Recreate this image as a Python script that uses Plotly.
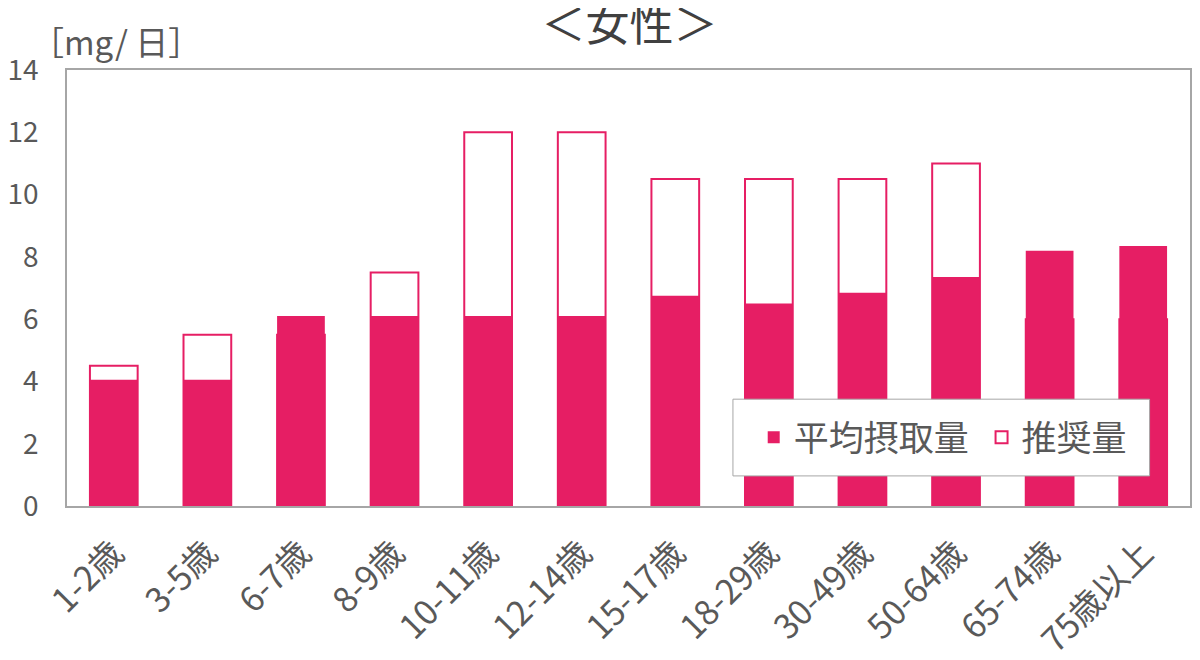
import plotly.graph_objects as go

# 鉄の摂取量（女性）
age_groups = ['1-2歳', '3-5歳', '6-7歳', '8-9歳', '10-11歳', '12-14歳',
              '15-17歳', '18-29歳', '30-49歳', '50-64歳', '65-74歳', '75歳以上']
avg_intake = [4.05, 4.05, 6.1, 6.1, 6.1, 6.1, 6.75, 6.5, 6.85, 7.35, 8.2, 8.35]
recommended = [4.5, 5.5, 5.5, 7.5, 12.0, 12.0, 10.5, 10.5, 10.5, 11.0, 6.0, 6.0]
y_ticks = [0, 2, 4, 6, 8, 10, 12, 14]

pink = '#e61e64'
gray_text = '#595959'
font_family = 'Noto Sans CJK JP, Noto Sans, sans-serif'

fig = go.Figure()

fig.add_trace(go.Bar(
    x=age_groups, y=recommended, name='推奨量',
    marker=dict(color='white', line=dict(color=pink, width=2)),
    width=0.51, legendrank=2
))
fig.add_trace(go.Bar(
    x=age_groups, y=avg_intake, name='平均摂取量 ',
    marker=dict(color=pink, line=dict(color=pink, width=0)),
    width=0.51, legendrank=1
))

# page body has an 8px margin, so margins are set 8px smaller on the left/top
fig.update_layout(
    width=1200, height=660,
    barmode='overlay',
    paper_bgcolor='white', plot_bgcolor='white',
    margin=dict(l=59, r=18, t=62, b=162, autoexpand=False),
    font=dict(family=font_family, color=gray_text, size=26),
    title=dict(text='＜女性＞', x=0.518, xanchor='center', y=0.974, yanchor='middle',
               font=dict(size=44, color='#404040')),
    legend=dict(
        orientation='h', x=0.6115, y=0.157, xanchor='left', yanchor='middle',
        bgcolor='rgba(0,0,0,0)', borderwidth=0,
        font=dict(size=35, color=gray_text),
        itemwidth=30, traceorder='normal'
    ),
    shapes=[dict(
        type='rect', xref='paper', yref='paper',
        x0=0.593, x1=0.964, y0=0.069, y1=0.245,
        fillcolor='white', line=dict(color='#a6a6a6', width=1), layer='above'
    )],
    annotations=[dict(
        text='［mg/ 日］', x=0.0, y=1.0, xref='paper', yref='paper',
        xanchor='left', yanchor='bottom', xshift=-38, yshift=3,
        showarrow=False, font=dict(size=33, color=gray_text)
    )]
)

fig.update_xaxes(
    tickangle=-45, showline=True, linecolor='#a6a6a6', linewidth=1.5,
    mirror=True, ticks='', automargin=False, ticklabelstandoff=12,
    tickfont=dict(size=34, color=gray_text)
)
fig.update_yaxes(
    range=[0, 14], tickvals=y_ticks, showgrid=False, zeroline=False,
    showline=True, linecolor='#a6a6a6', linewidth=1.5, mirror=True,
    ticks='', automargin=False, ticklabelstandoff=21,
    tickfont=dict(size=28, color=gray_text)
)

fig.write_html('out.html')
